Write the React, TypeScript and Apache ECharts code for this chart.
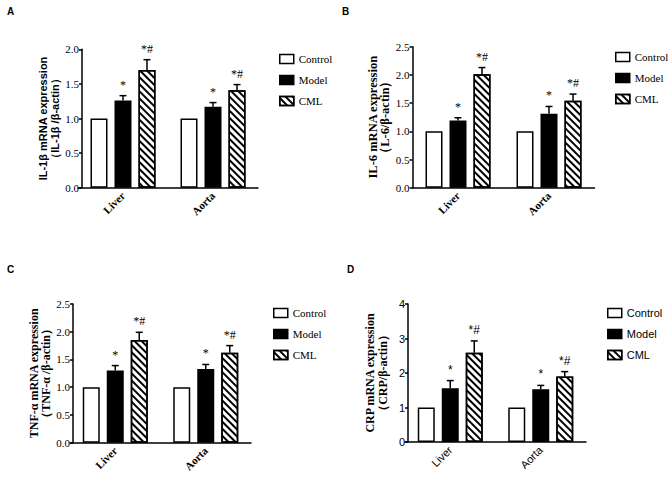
import React, { useEffect, useRef } from 'react';
import * as echarts from 'echarts';

// ---------- data ----------
const categories = ['Liver', 'Aorta'];
const groupNames = ['Control', 'Model', 'CML'];

// Panel A: IL-1β
const il1bControl = [1.0, 1.0];
const il1bModel = [1.26, 1.17];
const il1bCML = [1.7, 1.41];
const il1bModelErr = [0.07, 0.06];
const il1bCMLErr = [0.15, 0.08];

// Panel B: IL-6
const il6Control = [1.0, 1.0];
const il6Model = [1.19, 1.31];
const il6CML = [2.01, 1.54];
const il6ModelErr = [0.05, 0.13];
const il6CMLErr = [0.12, 0.12];

// Panel C: TNF-α
const tnfControl = [1.0, 1.0];
const tnfModel = [1.3, 1.33];
const tnfCML = [1.85, 1.62];
const tnfModelErr = [0.09, 0.08];
const tnfCMLErr = [0.14, 0.13];

// Panel D: CRP
const crpControl = [1.0, 1.0];
const crpModel = [1.56, 1.53];
const crpCML = [2.59, 1.9];
const crpModelErr = [0.22, 0.11];
const crpCMLErr = [0.34, 0.14];

const modelMarks = ['*', '*'];
const cmlMarks = ['*#', '*#'];

const yMaxes = [2.0, 2.5, 2.5, 4];
const yIntervals = [0.5, 0.5, 0.5, 1];
const yDecimals = [1, 1, 1, 0];

const panelLabels = ['A', 'B', 'C', 'D'];
const yTitles = [
  ['IL-1β mRNA expression', '（IL-1β /β-actin）'],
  ['IL-6 mRNA expression', '（L-6/β-actin）'],
  ['TNF-α mRNA expression', '（TNF-α /β-actin）'],
  ['CRP mRNA expression', '（CRP/β-actin）'],
];

// ---------- styling / layout ----------
const SERIF = '"Liberation Serif", "Times New Roman", serif';
const SANS = '"Liberation Sans", Arial, sans-serif';
const BAR_W = 17;
const BAR_GAP = 7;
const CAP = 3.5;

const layout = [
  { lx: 7, ly: 6, grid: { left: 78, top: 49.3, width: 180, height: 138.4 }, yOffset: -4, nameGap: 13, titleFont: SANS, titleSize: 11, legendLeft: 279, legendTop: 53.5, font: SERIF, markFont: SERIF },
  { lx: 342, ly: 6, grid: { left: 412.5, top: 46.7, width: 182, height: 141 }, yOffset: 0, nameGap: 20, titleFont: SERIF, titleSize: 12.5, legendLeft: 615, legendTop: 51.5, font: SERIF, markFont: SERIF },
  { lx: 7, ly: 264, grid: { left: 70, top: 304, width: 181, height: 138.7 }, yOffset: -3, nameGap: 17, titleFont: SERIF, titleSize: 12, legendLeft: 273, legendTop: 307.5, font: SERIF, markFont: SERIF },
  { lx: 347, ly: 264, grid: { left: 405, top: 304, width: 181, height: 138 }, yOffset: -3, nameGap: 19, titleFont: SERIF, titleSize: 12, legendLeft: 607, legendTop: 307.5, font: SANS, markFont: SANS },
];

const panelData = [
  { control: il1bControl, model: il1bModel, cml: il1bCML, modelErr: il1bModelErr, cmlErr: il1bCMLErr },
  { control: il6Control, model: il6Model, cml: il6CML, modelErr: il6ModelErr, cmlErr: il6CMLErr },
  { control: tnfControl, model: tnfModel, cml: tnfCML, modelErr: tnfModelErr, cmlErr: tnfCMLErr },
  { control: crpControl, model: crpModel, cml: crpCML, modelErr: crpModelErr, cmlErr: crpCMLErr },
];

const groupStyles = [
  { color: '#fff', borderColor: '#000', borderWidth: 1.5 },
  { color: '#000', borderColor: '#000', borderWidth: 1.5 },
  {
    color: '#fff',
    borderColor: '#000',
    borderWidth: 1.5,
    decal: {
      color: '#000',
      backgroundColor: '#fff',
      dashArrayX: [1, 0],
      dashArrayY: [2, 2.2],
      symbolSize: 1,
      rotation: Math.PI / 4,
    },
  },
];

function errorSeries(p: number, barIdx: number, values: number[], errs: number[], marks: string[], font: string) {
  return {
    type: 'custom',
    name: 'err' + p + '_' + barIdx,
    xAxisIndex: p,
    yAxisIndex: p,
    z: 5,
    itemStyle: { color: '#000' },
    data: categories.map((_, i) => [i, values[i], errs[i]]),
    encode: { x: 0, y: 1 },
    renderItem: (params: any, api: any) => {
      const ci = api.value(0);
      const v = api.value(1);
      const e = api.value(2);
      const base = api.coord([ci, v]);
      const top = api.coord([ci, v + e]);
      const x = base[0] + (barIdx - 1) * (BAR_W + BAR_GAP);
      const mark = marks[params.dataIndex];
      return {
        type: 'group',
        children: [
          { type: 'line', shape: { x1: x, y1: base[1], x2: x, y2: top[1] }, style: { stroke: '#000', lineWidth: 1.5 } },
          { type: 'line', shape: { x1: x - CAP, y1: top[1], x2: x + CAP, y2: top[1] }, style: { stroke: '#000', lineWidth: 1.5 } },
          {
            type: 'text',
            x: x,
            y: top[1] - 5,
            style: {
              text: mark,
              fill: '#000',
              stroke: 'none',
              lineWidth: 0,
              font: `12px ${font}`,
              align: 'center',
              verticalAlign: 'bottom',
            },
          },
        ],
      };
    },
  };
}

export default function App() {
  const ref = useRef<HTMLDivElement>(null);
  useEffect(() => {
    if (!ref.current) return;
    const chart = echarts.init(ref.current, null, { renderer: 'svg' });

    const grids: any[] = [];
    const xAxes: any[] = [];
    const yAxes: any[] = [];
    const legends: any[] = [];
    const series: any[] = [];
    const graphics: any[] = [];

    layout.forEach((L, p) => {
      grids.push({ ...L.grid, containLabel: false });
      xAxes.push({
        type: 'category',
        gridIndex: p,
        data: categories,
        axisLine: { lineStyle: { color: '#000', width: 1.5 } },
        axisTick: { alignWithLabel: true, length: 4, lineStyle: { color: '#000', width: 1.5 } },
        axisLabel: {
          rotate: 45,
          margin: 6,
          interval: 0,
          color: '#000',
          fontFamily: L.font,
          fontSize: 11,
          fontWeight: L.font === SERIF ? 'bold' : 'normal',
        },
        splitLine: { show: false },
      });
      yAxes.push({
        type: 'value',
        gridIndex: p,
        min: 0,
        max: yMaxes[p],
        interval: yIntervals[p],
        offset: L.yOffset,
        name: yTitles[p].join('\n'),
        nameLocation: 'middle',
        nameRotate: 90,
        nameGap: L.nameGap,
        nameTextStyle: {
          color: '#000',
          fontFamily: L.titleFont,
          fontSize: L.titleSize,
          fontWeight: 'bold',
          lineHeight: 12.5,
        },
        axisLine: { show: true, lineStyle: { color: '#000', width: 1.5 } },
        axisTick: { show: true, length: 3, lineStyle: { color: '#000', width: 1.5 } },
        axisLabel: {
          color: '#000',
          fontFamily: L.font,
          fontSize: 11,
          margin: 3,
          formatter: (v: number) => v.toFixed(yDecimals[p]),
        },
        splitLine: { show: false },
      });
      legends.push({
        data: groupNames,
        orient: 'vertical',
        left: L.legendLeft,
        top: L.legendTop,
        itemWidth: 14,
        itemHeight: 9,
        itemGap: 10,
        padding: 0,
        icon: 'rect',
        selectedMode: false,
        itemStyle: { borderColor: '#000', borderWidth: 1.5 },
        textStyle: { color: '#000', fontFamily: L.font, fontSize: 11 },
      });

      const d = panelData[p];
      const vals = [d.control, d.model, d.cml];
      groupNames.forEach((g, k) => {
        series.push({
          type: 'bar',
          name: g,
          xAxisIndex: p,
          yAxisIndex: p,
          data: vals[k],
          barWidth: BAR_W,
          barGap: `${(BAR_GAP / BAR_W) * 100}%`,
          itemStyle: groupStyles[k],
          emphasis: { disabled: true },
        });
      });
      series.push(errorSeries(p, 1, d.model, d.modelErr, modelMarks, L.markFont));
      series.push(errorSeries(p, 2, d.cml, d.cmlErr, cmlMarks, L.markFont));

      graphics.push({
        type: 'text',
        left: L.lx,
        top: L.ly,
        style: { text: panelLabels[p], fill: '#000', font: `bold 10px ${SANS}` },
      });
    });

    chart.setOption({
      animation: false,
      backgroundColor: '#fff',
      grid: grids,
      xAxis: xAxes,
      yAxis: yAxes,
      legend: legends,
      series,
      graphic: graphics,
    });
    return () => chart.dispose();
  }, []);

  return <div ref={ref} style={{ position: 'absolute', left: 0, top: 0, width: 669, height: 477 }} />;
}
